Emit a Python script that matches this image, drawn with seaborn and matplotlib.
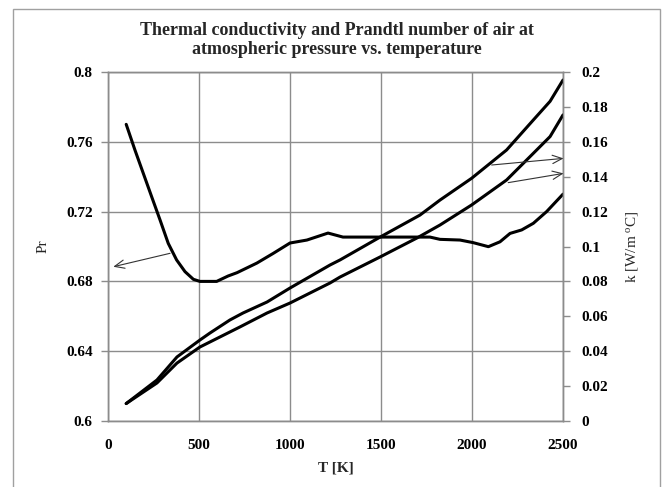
import matplotlib
matplotlib.use('Agg')
import matplotlib.pyplot as plt
import seaborn as sns

# Prandtl number (left axis)
T_pr = [100, 148, 194, 240, 286, 331, 377, 423, 469, 505, 597, 660, 709, 818,
        907, 1000, 1093, 1209, 1291, 1500, 1769, 1824, 1934, 2007, 2090, 2154,
        2209, 2273, 2337, 2410, 2500]
Pr = [0.770, 0.7553, 0.7419, 0.7285, 0.7152, 0.7018, 0.6923, 0.6856, 0.6812,
      0.680, 0.680, 0.6831, 0.685, 0.6905, 0.696, 0.702, 0.7037, 0.7077,
      0.7054, 0.7054, 0.7054, 0.7041, 0.7037, 0.7022, 0.6999, 0.7027, 0.7075,
      0.7095, 0.7133, 0.720, 0.730]

# thermal conductivity, two curves (right axis)
T_k1 = [100, 269, 379, 505, 560, 670, 742, 874, 1000, 1220, 1275, 1495,
        1714, 1824, 1998, 2190, 2337, 2429, 2500]
k1 = [0.010, 0.0235, 0.0367, 0.0464, 0.0504, 0.0579, 0.0619, 0.0682,
      0.0762, 0.0894, 0.0923, 0.1054, 0.118, 0.1266, 0.1391, 0.1553, 0.1725,
      0.1832, 0.1954]

T_k2 = [100, 269, 379, 505, 725, 874, 1000, 1220, 1275, 1495, 1698, 1824,
        1998, 2190, 2337, 2429, 2500]
k2 = [0.010, 0.0218, 0.0332, 0.0424, 0.0539, 0.0619, 0.0676, 0.0791,
      0.0825, 0.094, 0.1049, 0.1123, 0.1238, 0.1381, 0.1534, 0.163, 0.1754]

x_ticks = [0, 500, 1000, 1500, 2000, 2500]
pr_ticks = [0.6, 0.64, 0.68, 0.72, 0.76, 0.8]
pr_labels = ['0.6', '0.64', '0.68', '0.72', '0.76', '0.8']
k_ticks = [0, 0.02, 0.04, 0.06, 0.08, 0.1, 0.12, 0.14, 0.16, 0.18, 0.2]
k_labels = ['0', '0.02', '0.04', '0.06', '0.08', '0.1', '0.12', '0.14',
            '0.16', '0.18', '0.2']

sns.set_style('white')
plt.rcParams['font.family'] = ['Liberation Serif', 'DejaVu Serif']
plt.rcParams['mathtext.fontset'] = 'custom'
plt.rcParams['mathtext.rm'] = 'Liberation Serif'
plt.rcParams['mathtext.default'] = 'regular'

grey = '#8c8c8c'

fig = plt.figure(figsize=(6.63, 4.87), dpi=100)
ax = fig.add_axes([108 / 663, 1 - 421 / 487, 455 / 663, 349 / 487])
ax2 = ax.twinx()

sns.lineplot(x=T_pr, y=Pr, ax=ax, color='black', linewidth=2.2, sort=False)
sns.lineplot(x=T_k1, y=k1, ax=ax2, color='black', linewidth=2.2, sort=False)
sns.lineplot(x=T_k2, y=k2, ax=ax2, color='black', linewidth=2.2, sort=False)

ax.set_xlim(0, 2500)
ax.set_ylim(0.6, 0.8)
ax2.set_ylim(0, 0.2)
ax.set_xticks(x_ticks)
ax.set_xticklabels([str(t) for t in x_ticks], fontweight='bold', fontsize=11)
ax.set_yticks(pr_ticks)
ax.set_yticklabels(pr_labels, fontweight='bold', fontsize=11)
ax2.set_yticks(k_ticks)
ax2.set_yticklabels(k_labels, fontweight='bold', fontsize=11)

ax.grid(True, color=grey, linewidth=1)
ax2.grid(False)
for a in (ax, ax2):
    for s in a.spines.values():
        s.set_color(grey)
        s.set_linewidth(1)
    a.tick_params(direction='out', length=5, width=1, color=grey,
                  labelcolor='black')
ax.tick_params(axis='x', pad=8)
ax.tick_params(axis='y', pad=6)
ax2.tick_params(axis='y', pad=8)

ax.set_xlabel('T [K]', fontweight='bold', fontsize=11, labelpad=7)
ax.set_ylabel('Pr', fontsize=11, labelpad=12)
ax2.set_ylabel('k [W/m $^{o}$C]', fontsize=11, labelpad=12)

# arrows pointing to the axes
arrow = dict(arrowstyle='->,head_length=0.7,head_width=0.3', color='#333333',
             lw=0.8, shrinkA=0, shrinkB=0)
ax.annotate('', xy=(29, 0.6884), xytext=(341, 0.6961), arrowprops=arrow,
            annotation_clip=False)
ax2.annotate('', xy=(2503, 0.1505), xytext=(2108, 0.1467), arrowprops=arrow,
             annotation_clip=False)
ax2.annotate('', xy=(2503, 0.1419), xytext=(2199, 0.1366), arrowprops=arrow,
             annotation_clip=False)

fig.text(0.508, 1 - 40 / 487,
         'Thermal conductivity and Prandtl number of air at\n'
         'atmospheric pressure vs. temperature',
         ha='center', va='center', fontsize=13, fontweight='bold',
         linespacing=1.2)

# chart area border
fig.add_artist(plt.Rectangle((13 / 663, -0.01), 647 / 663, 1 - 9 / 487 + 0.01,
                             transform=fig.transFigure, fill=False,
                             edgecolor='#a0a0a0', linewidth=1))

fig.savefig('out.png', dpi=100)
